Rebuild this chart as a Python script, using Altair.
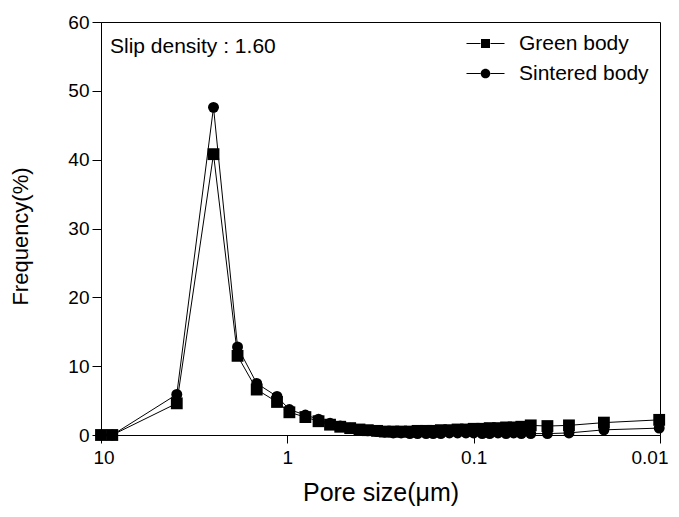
import altair as alt
import pandas as pd

# ---- data ----
series_names = ["Green body", "Sintered body"]
pore_size = [10.0, 8.7, 3.92, 2.49, 1.85, 1.46, 1.136, 0.975, 0.80, 0.68, 0.59,
             0.52, 0.46, 0.41, 0.37, 0.33, 0.30, 0.27, 0.245, 0.22, 0.20, 0.18,
             0.165, 0.15, 0.135, 0.122, 0.11, 0.10, 0.09, 0.082, 0.074, 0.067,
             0.061, 0.0555, 0.0494, 0.0402, 0.0308, 0.0200, 0.0101]
green_body = [0, 0, 4.6, 40.8, 11.5, 6.6, 4.8, 3.3, 2.6, 2.0, 1.5,
              1.2, 1.0, 0.8, 0.7, 0.6, 0.5, 0.5, 0.5, 0.5, 0.6, 0.6,
              0.6, 0.7, 0.7, 0.8, 0.8, 0.9, 0.9, 1.0, 1.0, 1.1,
              1.1, 1.2, 1.4, 1.3, 1.4, 1.8, 2.2]
sintered_body = [0, 0, 5.9, 47.6, 12.8, 7.5, 5.6, 3.7, 2.9, 2.3, 1.7,
                 1.3, 1.0, 0.8, 0.6, 0.5, 0.4, 0.3, 0.3, 0.2, 0.2, 0.2,
                 0.2, 0.2, 0.3, 0.3, 0.3, 0.3, 0.2, 0.2, 0.3, 0.2,
                 0.3, 0.2, 0.2, 0.2, 0.3, 0.75, 1.0]
x_tick_values = [10, 1, 0.1, 0.01]
y_tick_values = [0, 10, 20, 30, 40, 50, 60]
annotation_text = ["Slip density : 1.60"]
annotation_x = [8.95]
annotation_y = [56.4]

rows = []
for d, g, s in zip(pore_size, green_body, sintered_body):
    rows.append({"size": d, "freq": g, "series": series_names[0]})
    rows.append({"size": d, "freq": s, "series": series_names[1]})
df = pd.DataFrame(rows)
ann = pd.DataFrame({"x": annotation_x, "y": annotation_y, "t": annotation_text})

FONT = "Liberation Sans"

x_enc = alt.X("size:Q",
              scale=alt.Scale(type="log", domain=[0.01, 10], reverse=True, nice=False),
              axis=alt.Axis(values=x_tick_values, format="~g", title="Pore size(\u03bcm)",
                            tickSize=8, labelPadding=5, titlePadding=13,
                            titleFontSize=25, labelFontSize=19, labelFlush=True,
                            labelFlushOffset=8))
y_enc = alt.Y("freq:Q",
              scale=alt.Scale(domain=[0, 60], nice=False),
              axis=alt.Axis(values=y_tick_values, title="Frequency(%)",
                            tickSize=9, labelPadding=3, titlePadding=35, titleY=214,
                            titleFontSize=22, labelFontSize=19))

lines = alt.Chart(df).mark_line(color="black", strokeWidth=1).encode(
    x=x_enc, y=y_enc, detail="series:N"
)

points = alt.Chart(df).mark_point(filled=True, color="black", opacity=1).encode(
    x=x_enc, y=y_enc,
    shape=alt.Shape("series:N", scale=alt.Scale(domain=series_names, range=["square", "circle"]),
                    legend=None),
    size=alt.Size("series:N", scale=alt.Scale(domain=series_names, range=[140, 120]), legend=None),
)

# legend glyphs "—■—" and "—●—": line stubs drawn as thin filled bars
legend_paths = [
    "M-1.9,-0.05H-0.5V0.05H-1.9Z M0.5,-0.05H1.9V0.05H0.5Z M-0.45,-0.45H0.45V0.45H-0.45Z",
    "M-1.9,-0.05H-0.5V0.05H-1.9Z M0.5,-0.05H1.9V0.05H0.5Z "
    "M0.48,0A0.48,0.48,0,1,1,-0.48,0A0.48,0.48,0,1,1,0.48,0Z",
]
legend_layer = alt.Chart(df).mark_point(filled=True, color="black", opacity=0).encode(
    x=x_enc, y=y_enc,
    shape=alt.Shape("series:N",
                    scale=alt.Scale(domain=series_names, range=legend_paths),
                    legend=alt.Legend(title=None, orient="none", legendX=374, legendY=11,
                                      direction="vertical", labelFont=FONT, labelFontSize=21,
                                      labelColor="black", symbolSize=400, symbolOpacity=1,
                                      symbolFillColor="black", symbolStrokeWidth=0,
                                      rowPadding=8, labelOffset=23, padding=0)),
)

text = alt.Chart(ann).mark_text(align="left", baseline="middle", font=FONT, fontSize=21,
                                color="black").encode(
    x=alt.X("x:Q", scale=alt.Scale(type="log", domain=[0.01, 10], reverse=True, nice=False)),
    y=alt.Y("y:Q", scale=alt.Scale(domain=[0, 60], nice=False)),
    text="t:N",
)

chart = alt.layer(lines, points, legend_layer, text).resolve_scale(
    shape="independent"
).properties(
    width=559, height=413,
    autosize=alt.AutoSizeParams(type="none"),
    padding={"left": 93, "top": 14, "right": 11, "bottom": 74},
    background="white",
).configure_view(
    stroke="black", strokeWidth=1
).configure_axis(
    grid=False, domainColor="black", tickColor="black", labelColor="black",
    titleColor="black", labelFont=FONT, titleFont=FONT, titleFontWeight="normal",
    domainWidth=1, tickWidth=1
)

chart.save("out.html", embed_options={"renderer": "svg", "actions": False})
